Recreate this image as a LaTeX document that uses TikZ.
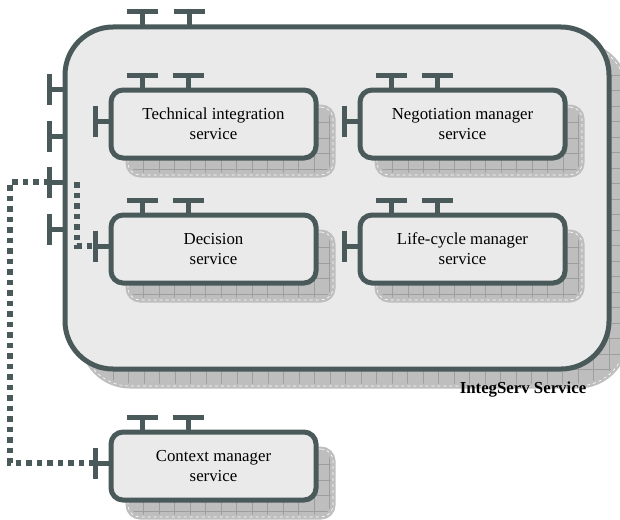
\documentclass[tikz,border=0pt]{standalone}
\usepackage{fontspec}
\setmainfont{Liberation Serif}
\usetikzlibrary{positioning,shadows}

\definecolor{portgray}{RGB}{74,90,90}
\definecolor{boxfill}{RGB}{234,234,234}
\definecolor{shadefill}{RGB}{190,190,190}
\definecolor{gridgray}{RGB}{158,158,158}

\begin{document}
\begin{tikzpicture}[
  x=1pt, y=-1pt,
  every node/.style={font=\fontsize{16.8}{20}\selectfont},
  gridlines/.style={path picture={
    \foreach \k in {1,...,36} {
      \draw[gridgray, line width=0.6pt]
        ([xshift=\k*15.5pt]path picture bounding box.north west) -- ([xshift=\k*15.5pt]path picture bounding box.south west);
      \draw[gridgray, line width=0.6pt]
        ([yshift=-\k*15.5pt]path picture bounding box.north west) -- ([yshift=-\k*15.5pt]path picture bounding box.north east);
    }}},
  gridshadow/.style={
    general shadow={shadow xshift=17pt, shadow yshift=-17pt, fill=shadefill, draw=shadefill, line width=5pt, gridlines},
    general shadow={shadow xshift=17pt, shadow yshift=-17pt, draw=white, dashed, line width=0.6pt}
  },
  service/.style={draw=portgray, line width=5pt, fill=boxfill, rounded corners=12pt,
    minimum width=205pt, minimum height=68pt, inner sep=0pt, outer sep=0pt, align=center, gridshadow},
  container/.style={service, rounded corners=48pt, minimum width=544pt, minimum height=342pt},
  port/.style={draw=portgray, line width=5pt},
  link/.style={draw=portgray, line width=5.5pt, dash pattern=on 5.5pt off 5pt},
  tag/.style={font=\fontsize{16.8}{20}\selectfont\bfseries}
]
\useasboundingbox (0,0) rectangle (620,519);

% outer service and its parts
\node[container] (integ) at (337,198) {};
\node[service] (tech) at (213.5,124) {Technical integration\\service};
\node[service,right=44pt of tech] (negotiation) {Negotiation manager\\service};
\node[service,below=57pt of tech] (decision) {Decision\\service};
\node[service,right=44pt of decision] (lifecycle) {Life-cycle manager\\service};
\node[service,below=149pt of decision] (context) {Context manager\\service};
\node[tag] (integlabel) at (523,390) {IntegServ Service};

% ports
\foreach \o in {77,124}
  \draw[port] ([xshift=\o pt]integ.north west) -- ++(0,-15) ++(-15.5,0) -- ++(31,0);
\foreach \o [count=\i] in {62,109,155,202}
  \draw[port] ([yshift=-\o pt]integ.north west) -- ++(-16,0) coordinate (integ-lp\i) ++(0,-15.5) -- ++(0,31);
\foreach \b in {tech,negotiation,decision,lifecycle,context} {
  \foreach \o in {31,77}
    \draw[port] ([xshift=\o pt]\b.north west) -- ++(0,-15) ++(-15.5,0) -- ++(31,0);
  \draw[port] ([yshift=-31pt]\b.north west) -- ++(-16,0) coordinate (\b-lp) ++(0,-15.5) -- ++(0,31);
}

% dotted links
\draw[link] (integ-lp3) -- ++(-39,0) |- (context-lp);
\draw[link] ([xshift=12pt,yshift=-155pt]integ.north west) |- (decision-lp);
\end{tikzpicture}
\end{document}
